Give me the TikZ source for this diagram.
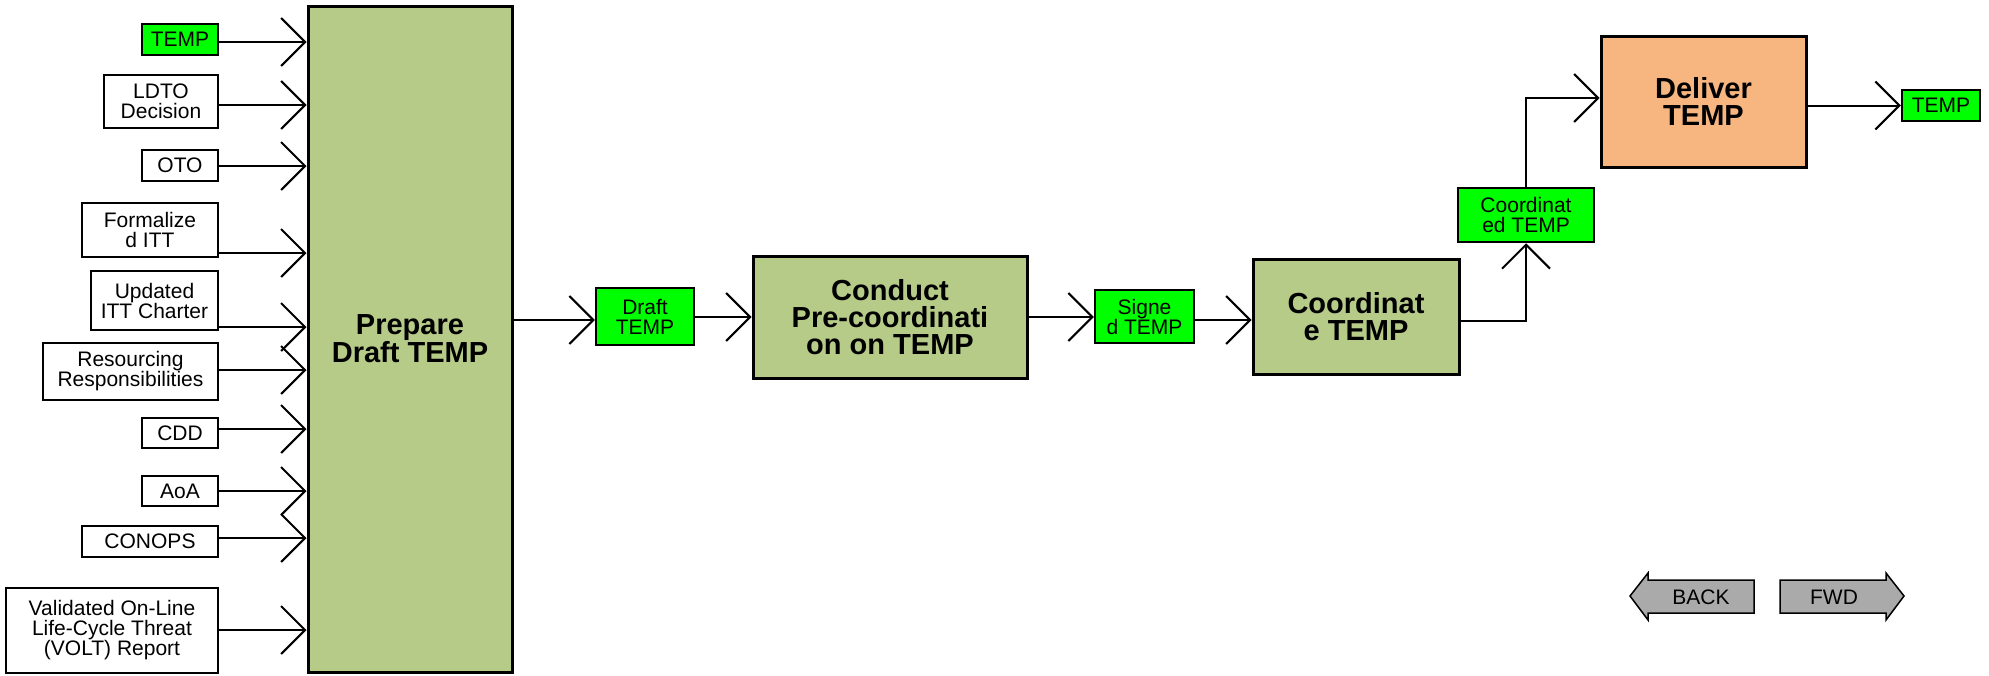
\documentclass[tikz,border=0pt]{standalone}
\usepackage{fontspec}
\setmainfont{Liberation Sans}
\usetikzlibrary{arrows.meta}
\definecolor{procfill}{HTML}{B7CB88}
\definecolor{datafill}{HTML}{00FF00}
\definecolor{delfill}{HTML}{F7B580}
\definecolor{btnfill}{HTML}{AAAAAA}
\newcommand\bx[7]{\node[#6, minimum width={#4-#2}, minimum height={#5-#3}] (#1) at ({(#2+#4)/2},{(#3+#5)/2}) {#7};}
\tikzset{
  lbl/.style={draw, line width=2.5pt, fill=white, inner sep=0pt, align=center, font=\fontsize{21}{20}\selectfont},
  dat/.style={lbl, fill=datafill},
  proc/.style={draw, line width=3pt, fill=procfill, inner sep=0pt, align=center, font=\bfseries\fontsize{29}{27}\selectfont},
  flow/.style={line width=2pt, -{Straight Barb[length=24pt,width=48pt]}},
  btn/.style={draw, line width=1.5pt, fill=btnfill, line join=miter},
  btntext/.style={inner sep=0pt, font=\fontsize{21}{21}\selectfont}
}
\begin{document}
\begin{tikzpicture}[x=1pt,y=-1pt]
\useasboundingbox (0,0) rectangle (1989,675);
% main process
\bx{prep}{308}{6}{512}{672}{proc}{Prepare\\Draft TEMP}
% inputs
\bx{i1}{142}{24}{218}{55}{dat}{TEMP}
\bx{i2}{104}{75}{218}{128}{lbl}{LDTO\\Decision}
\bx{i3}{142}{150}{218}{181}{lbl}{OTO}
\bx{i4}{82}{203}{218}{257}{lbl}{Formalize\\d ITT}
\bx{i5}{91}{271}{218}{330}{lbl}{Updated\\ITT Charter}
\bx{i6}{43}{343}{218}{400}{lbl}{Resourcing\\Responsibilities}
\bx{i7}{142}{418}{218}{448}{lbl}{CDD}
\bx{i8}{142}{476}{218}{506}{lbl}{AoA}
\bx{i9}{82}{526}{218}{557}{lbl}{CONOPS}
\bx{i10}{6}{588}{218}{673}{lbl}{Validated On-Line\\Life-Cycle Threat\\(VOLT) Report}
\foreach \i/\y in {1/42,2/105,3/166,4/253,5/327,6/370,7/429,8/491,9/538,10/630}{
  \coordinate (e\i) at (prep.west |- 0,\y);
  \draw[flow] (i\i.east |- e\i) -- (e\i);
}
% chain
\bx{d1}{596}{288}{694}{345}{dat}{Draft\\TEMP}
\bx{cond}{753}{256}{1027}{378}{proc}{Conduct\\Pre-coordinati\\on on TEMP}
\bx{d2}{1095}{290}{1194}{343}{dat}{Signe\\d TEMP}
\bx{coord}{1253}{259}{1459}{374}{proc}{Coordinat\\e TEMP}
\bx{d3}{1458}{188}{1594}{242}{dat}{Coordinat\\ed TEMP}
\bx{deliv}{1601}{36}{1806}{167}{proc, fill=delfill}{Deliver\\TEMP}
\bx{d4}{1902}{90}{1980}{121}{dat}{TEMP}
\coordinate (o1) at (prep.east |- 0,320);
\draw[flow] (o1) -- (d1.west |- o1);
\draw[flow] (d1.east |- cond.west) -- (cond.west);
\draw[flow] (cond.east) -- (d2.west |- cond.east);
\coordinate (o2) at (d2.east |- 0,320);
\draw[flow] (o2) -- (coord.west |- o2);
\coordinate (o3) at (coord.east |- 0,321);
\draw[flow] (o3) -| (d3.south);
\coordinate (o4) at (deliv.west |- 0,98);
\draw[flow] (d3.north) |- (o4);
\draw[flow] (deliv.east |- d4.west) -- (d4.west);
% buttons
\draw[btn] (1630,596) -- (1648,573) -- (1648,580) -- (1754,580) -- (1754,613) -- (1648,613) -- (1648,620) -- cycle;
\node[btntext] (back) at (1701,597) {BACK};
\draw[btn] (1904,596) -- (1886,573) -- (1886,580) -- (1780,580) -- (1780,613) -- (1886,613) -- (1886,620) -- cycle;
\node[btntext] (fwd) at (1834,597) {FWD};
\end{tikzpicture}
\end{document}
